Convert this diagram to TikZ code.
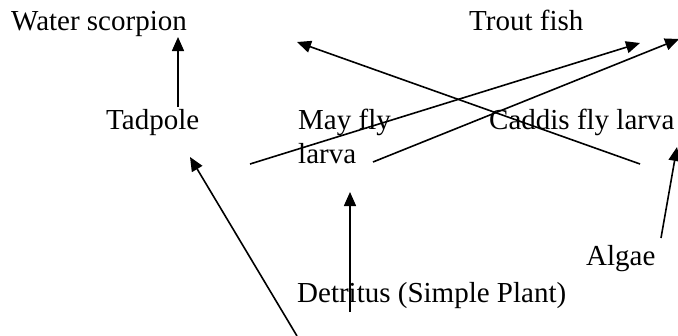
\documentclass[tikz,border=0pt]{standalone}
\usepackage{fontspec}
\setmainfont{Liberation Serif}
\usetikzlibrary{arrows.meta}
\begin{document}
\begin{tikzpicture}[x=1pt,y=-1pt,
  lbl/.style={inner sep=0pt, anchor=base west, align=left,
    font=\fontsize{29}{34}\selectfont},
  arr/.style={line width=1.6pt, -{Triangle[length=14pt,width=12pt]}}]
\useasboundingbox (0,0) rectangle (678,335);

% organisms (multi-line labels are placed by their last baseline)
\node[lbl] (scorpion) at (11,30)  {Water scorpion};
\node[lbl] (trout)    at (469,30) {Trout fish};
\node[lbl] (tadpole)  at (106,129) {Tadpole};
\node[lbl] (mayfly)   at (298,163) {May fly\\larva};
\node[lbl] (caddis)   at (489,129) {Caddis fly larva};
\node[lbl] (algae)    at (586,265) {Algae};
\node[lbl] (detritus) at (297,302) {Detritus (Simple Plant)};

% connector ends
\coordinate (scorpionIn)  at (178,37);
\coordinate (scorpionIn2) at (297,42);
\coordinate (troutInA)    at (640,43);
\coordinate (troutInB)    at (679,39);
\coordinate (tadpoleOut)  at (178,107);
\coordinate (tadpoleIn)   at (190,157);
\coordinate (mayflyOutA)  at (250,164);
\coordinate (mayflyOutB)  at (373,162);
\coordinate (mayflyIn)    at (350,192);
\coordinate (caddisOut)   at (640,164);
\coordinate (caddisIn)    at (677,147);
\coordinate (algaeOut)    at (661,238);
\coordinate (detritusOut) at (350,312);
\coordinate (detritusOut2) at (297,336);

% feeding links
\draw[arr] (tadpoleOut) -- (scorpionIn);
\draw[arr] (mayflyOutA) -- (troutInA);
\draw[arr] (mayflyOutB) -- (troutInB);
\draw[arr] (caddisOut) -- (scorpionIn2);
\draw[arr] (algaeOut) -- (caddisIn);
\draw[arr] (detritusOut) -- (mayflyIn);
\draw[arr] (detritusOut2) -- (tadpoleIn);
\end{tikzpicture}
\end{document}
